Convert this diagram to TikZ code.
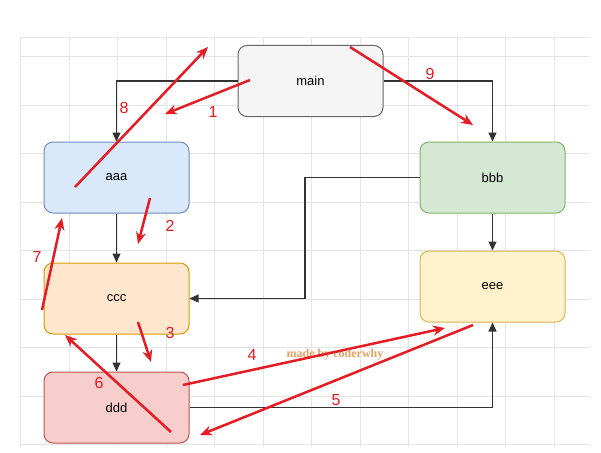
\documentclass[tikz,border=0pt]{standalone}
\usepackage{fontspec}
\setmainfont{Liberation Sans}
\newfontfamily\serifb{Liberation Serif}
\usetikzlibrary{arrows.meta}
\begin{document}
\begin{tikzpicture}[x=1pt,y=-1pt,
  box/.style={draw,rounded corners=9pt,minimum width=145pt,minimum height=71pt,line width=1pt,font=\fontsize{13}{15}\selectfont,inner sep=0pt},
  con/.style={draw=black!80,line width=1.2pt,-{Triangle[length=9pt,width=8pt]}},
  red/.style={draw={rgb,255:red,229;green,28;blue,35},line width=2.5pt,-{Stealth[length=12pt,width=10pt]}},
  lab/.style={text={rgb,255:red,229;green,28;blue,35},font=\fontsize{16}{18}\selectfont}]
\useasboundingbox (0,0) rectangle (601,452);
\begin{scope}[draw=black!10,line width=0.6pt]
\foreach \i in {0,...,11} \draw (20.7+48.5*\i,37) -- (20.7+48.5*\i,447);
\draw (20.7,37) -- (590,37);
\foreach \j in {0,...,8} \draw (20.7,56.7+48.5*\j) -- (590,56.7+48.5*\j);
\end{scope}
\node[box,fill={rgb,255:red,245;green,245;blue,245},draw={rgb,255:red,102;green,102;blue,102}] (main) at (310.5,81) {main};
\node[box,fill={rgb,255:red,218;green,232;blue,252},draw={rgb,255:red,108;green,142;blue,191}] (aaa) at (116.5,177.5) {aaa};
\node[box,fill={rgb,255:red,213;green,232;blue,212},draw={rgb,255:red,130;green,179;blue,102}] (bbb) at (492.5,177.5) {bbb};
\node[box,fill={rgb,255:red,255;green,230;blue,204},draw={rgb,255:red,215;green,155;blue,0}] (ccc) at (116.5,298.5) {ccc};
\node[box,fill={rgb,255:red,255;green,242;blue,204},draw={rgb,255:red,214;green,182;blue,86}] (eee) at (492.5,286.5) {eee};
\node[box,fill={rgb,255:red,248;green,206;blue,204},draw={rgb,255:red,184;green,84;blue,80}] (ddd) at (116.5,407.5) {ddd};
\draw[con] (main.west) -| (aaa.north);
\draw[con] (main.east) -| (bbb.north);
\draw[con] (aaa) -- (ccc);
\draw[con] (bbb.south) -- (eee.north);
\draw[con] (ccc) -- (ddd);
\draw[con] (bbb.west) -- (305,177.5) |- (ccc.east);
\draw[con] (ddd.east) -| (eee.south);
\node[text={rgb,255:red,232;green,160;blue,96},font=\serifb\bfseries\fontsize{12}{14}\selectfont] (mk) at (335,355) {made by coderwhy};
\coordinate (r1a) at (250,80); \coordinate (r1b) at (165,114);
\coordinate (r2a) at (150,198); \coordinate (r2b) at (138,244);
\coordinate (r3a) at (138,322); \coordinate (r3b) at (151,362);
\coordinate (r4a) at (183,385); \coordinate (r4b) at (445,328);
\coordinate (r5a) at (473,325); \coordinate (r5b) at (200,435);
\coordinate (r6a) at (171,432); \coordinate (r6b) at (65,335);
\coordinate (r7a) at (42,310); \coordinate (r7b) at (62,218);
\coordinate (r8a) at (75,187); \coordinate (r8b) at (208,47);
\coordinate (r9a) at (350,47); \coordinate (r9b) at (473,125);
\foreach \k in {1,...,9} \draw[red] (r\k a) -- (r\k b);
\node[lab] (l1) at (213,112) {1};
\node[lab] (l2) at (170,226) {2};
\node[lab] (l3) at (170,333) {3};
\node[lab] (l4) at (252,355) {4};
\node[lab] (l5) at (336,400) {5};
\node[lab] (l6) at (99,383) {6};
\node[lab] (l7) at (37,257) {7};
\node[lab] (l8) at (124,108) {8};
\node[lab] (l9) at (430,74) {9};
\end{tikzpicture}
\end{document}
